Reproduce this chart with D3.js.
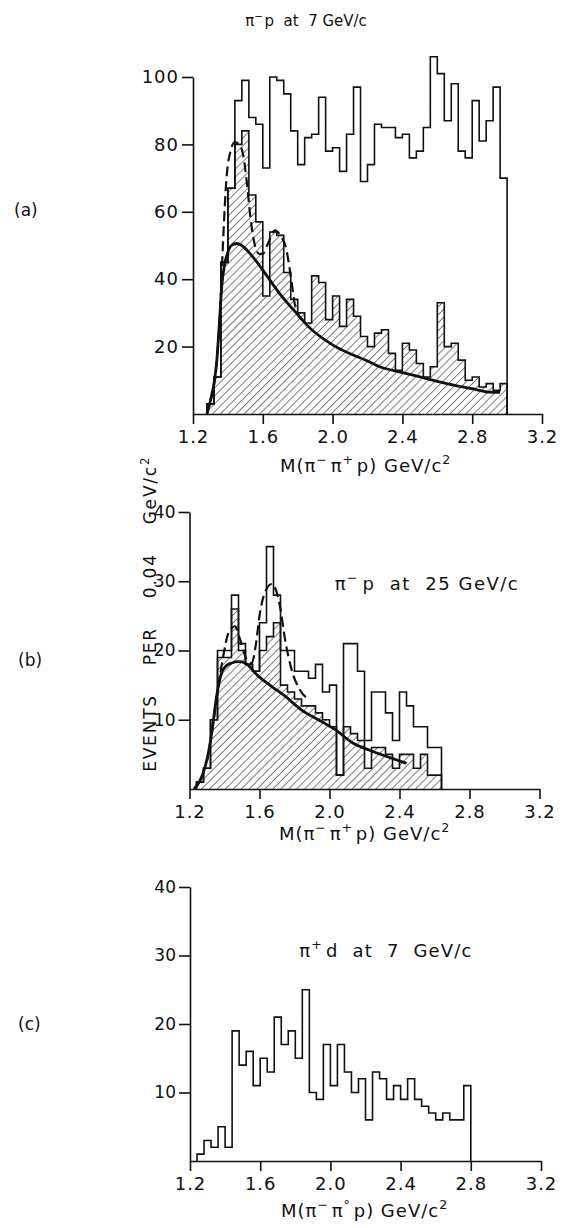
<!DOCTYPE html>
<html><head><meta charset="utf-8">
<script src="https://cdn.jsdelivr.net/npm/d3@7"></script>
<style>
body{margin:0;background:#fff}
text{font-family:"DejaVu Sans",sans-serif;fill:#111;white-space:pre}
</style>
</head><body><svg id="chart" width="566" height="1228"></svg>
<script>
// ---------- data ----------
const binWidth = 0.04;
const massTicks = [1.2, 1.6, 2.0, 2.4, 2.8, 3.2];
const massTickLabels = ["1.2", "1.6", "2.0", "2.4", "2.8", "3.2"];

// (a) pi- p at 7 GeV/c
const aFirstBin = 1.28;
const aTotal = [3,11,45,67,93,99,88,86,73,100,99,95,84,74,82,83,94,78,79,72,83,97,69,74,86,85,85,82,83,76,78,85,106,101,87,98,78,76,93,81,87,97,70];
const aHatched = [3,11,45,67,80,84,65,57,35,54,53,42,34,30,27,41,39,28,35,26,34,29,23,20,24,25,18,13,21,19,15,11,14,33,20,21,16,10,11,8,9,7,9];
const aFitSolid = [[1.28,0],[1.30,4],[1.32,9],[1.335,15],[1.35,26],[1.365,38],[1.38,44],[1.40,48],[1.42,50],[1.45,50.6],[1.48,50],[1.52,48],[1.56,45.5],[1.60,42.7],[1.70,35.5],[1.80,29.5],[1.86,26],[2.0,20.5],[2.2,15.7],[2.27,14],[2.4,12.3],[2.5,11],[2.6,9.7],[2.7,8.5],[2.8,7.5],[2.9,6.5],[2.96,6.4]];
const aFitDashed = [[1.30,4],[1.335,15],[1.355,30],[1.373,52],[1.392,70],[1.415,78],[1.44,80.7],[1.465,80],[1.487,77],[1.51,68],[1.53,58],[1.555,50],[1.58,47.5],[1.60,47.5],[1.63,50.6],[1.669,54.5],[1.70,53],[1.736,48.6],[1.76,41],[1.79,31],[1.83,27.8]];
const aYTicks = [20, 40, 60, 80, 100];

// (b) pi- p at 25 GeV/c
const bFirstBin = 1.24;
const bTotal = [1,3,10,20,20,28,21,18,17,24,35,28,20,20,17,17,16,18,14,15,2,21,21,17,7,14,14,11,7,14,12,9,9,6,6];
const bHatched = [1,3,10,19,19,26,20,18,17,20,22,24,15,14,13,12,12,11,10,9,2,9,8,7,3,6,6,5,3,5,5,3,5,2,2];
const bFitSolid = [[1.225,0],[1.26,1.2],[1.289,3.2],[1.31,5.5],[1.327,8.1],[1.355,13.4],[1.384,16.8],[1.41,17.8],[1.441,18.2],[1.48,18.4],[1.517,18.2],[1.593,16.3],[1.67,14.8],[1.746,13.4],[1.841,11.4],[1.936,10],[2.031,8.6],[2.136,6.6],[2.23,5.6],[2.327,4.7],[2.44,3.7]];
const bFitDashed = [[1.30,4],[1.33,8.5],[1.36,14],[1.393,19.2],[1.422,22.5],[1.46,23.5],[1.489,21.6],[1.527,18.7],[1.555,18.2],[1.58,21],[1.60,25],[1.631,28.4],[1.67,29.6],[1.717,26.4],[1.746,21.6],[1.784,17.2],[1.831,14.3],[1.889,12.9]];
const bcYTicks = [10, 20, 30, 40];

// (c) pi+ d at 7 GeV/c
const cFirstBin = 1.24;
const cTotal = [1,3,2,5,2,19,14,16,11,15,13,21,17,19,15,25,10,9,17,11,17,13,10,12,6,13,12,9,11,9,12,9,8,7,6,7,6,6,11];

// ---------- drawing ----------
const svg = d3.select("#chart");
const defs = svg.append("defs");
const pat = defs.append("pattern").attr("id","hatch").attr("patternUnits","userSpaceOnUse")
  .attr("width",5.6).attr("height",10).attr("patternTransform","rotate(45)");
pat.append("line").attr("x1",0).attr("y1",-1).attr("x2",0).attr("y2",11).attr("stroke","#111").attr("stroke-width",1.1);

function stepPath(first, vals, x, y) {
  const p = d3.path();
  p.moveTo(x(first), y(0));
  vals.forEach((v, i) => {
    const a = first + i * binWidth, b = a + binWidth;
    p.lineTo(x(a), y(v)); p.lineTo(x(b), y(v));
  });
  p.lineTo(x(first + vals.length * binWidth), y(0));
  return p.toString();
}

function richText(parent, x, y, parts, size, anchor, ls, extra) {
  const t = parent.append("text").attr("x", x).attr("y", y)
    .attr("font-size", size).attr("text-anchor", anchor || "start")
    .attr("letter-spacing", ls || 0);
  if (extra) extra(t);
  parts.forEach(p => {
    if (typeof p === "string") t.append("tspan").text(p);
    else {
      t.append("tspan").attr("dy", -size * 0.42).attr("font-size", size * 0.7).text(p.sup);
      t.append("tspan").attr("dy", size * 0.42).text("\u200A");
    }
  });
  return t;
}

function panel(cfg) {
  const x = d3.scaleLinear().domain([1.2, 3.2]).range(cfg.xr);
  const y = d3.scaleLinear().domain([0, cfg.ymax]).range(cfg.yr);
  const g = svg.append("g");
  if (cfg.hatched) {
    g.append("path").attr("d", stepPath(cfg.hFirst, cfg.hatched, x, y))
      .attr("fill", "url(#hatch)").attr("stroke", "#111").attr("stroke-width", 1.6);
  }
  g.append("path").attr("d", stepPath(cfg.tFirst, cfg.total, x, y))
    .attr("fill", "none").attr("stroke", "#111").attr("stroke-width", 1.6);
  const line = d3.line().x(d => x(d[0])).y(d => y(d[1])).curve(d3.curveMonotoneX);
  if (cfg.solid) g.append("path").datum(cfg.solid).attr("d", line)
    .attr("fill", "none").attr("stroke", "#111").attr("stroke-width", 2.8);
  if (cfg.dashed) g.append("path").datum(cfg.dashed).attr("d", line)
    .attr("fill", "none").attr("stroke", "#111").attr("stroke-width", 2.2).attr("stroke-dasharray", "10,5");

  const xa = d3.axisBottom(x).tickValues(massTicks).tickSize(10).tickSizeOuter(0).tickPadding(6)
    .tickFormat((d, i) => massTickLabels[i]);
  const gx = g.append("g").attr("transform", `translate(0,${cfg.yr[0]})`).call(xa);
  const ya = d3.axisLeft(y).tickValues(cfg.yTicks).tickSize(11).tickSizeOuter(0).tickPadding(3);
  const gy = g.append("g").attr("transform", `translate(${cfg.xr[0]},0)`).call(ya);
  [gx, gy].forEach(a => {
    a.selectAll("path,line").attr("stroke", "#111").attr("stroke-width", 1.6);
    a.selectAll("text").attr("font-family", "DejaVu Sans").attr("fill", "#111");
  });
  gx.selectAll("text").attr("font-size", 18).attr("letter-spacing", 1);
  gy.selectAll("text").attr("font-size", cfg.yFont).attr("letter-spacing", cfg.yLs);
  return g;
}

panel({xr:[193,542], yr:[414,77], ymax:100, yTicks:aYTicks, yFont:18, yLs:1, tFirst:aFirstBin, total:aTotal,
       hFirst:aFirstBin, hatched:aHatched, solid:aFitSolid, dashed:aFitDashed});
panel({xr:[189.5,539.5], yr:[789,512], ymax:40, yTicks:bcYTicks, yFont:17, yLs:0, tFirst:bFirstBin, total:bTotal,
       hFirst:bFirstBin, hatched:bHatched, solid:bFitSolid, dashed:bFitDashed});
panel({xr:[190,541], yr:[1161,887], ymax:40, yTicks:bcYTicks, yFont:17, yLs:0, tFirst:cFirstBin, total:cTotal});

// ---------- texts ----------
richText(svg, 306, 26, ["\u03C0", {sup:"\u2212"}, "p  at  7 GeV/c"], 15, "middle", 0);
svg.append("text").attr("x", 14).attr("y", 216).attr("font-size", 17).text("(a)");
svg.append("text").attr("x", 18).attr("y", 666).attr("font-size", 17).text("(b)");
svg.append("text").attr("x", 18).attr("y", 1030).attr("font-size", 17).text("(c)");

const xTitleAB = ["M(\u03C0", {sup:"\u2212"}, "\u03C0", {sup:"+"}, "p) GeV/c", {sup:"2"}];
const xTitleC = ["M(\u03C0", {sup:"\u2212"}, "\u03C0", {sup:"\u00B0"}, "p) GeV/c", {sup:"2"}];
richText(svg, 367, 472, xTitleAB, 18, "middle", 1);
richText(svg, 366, 840, xTitleAB, 18, "middle", 1);
richText(svg, 366, 1217, xTitleC, 18, "middle", 1);

richText(svg, 427, 590, ["\u03C0", {sup:"\u2212"}, "p  at  25 GeV/c"], 18, "middle", 1.5);
richText(svg, 386, 957, ["\u03C0", {sup:"+"}, "d  at  7  GeV/c"], 18, "middle", 1.2);

richText(svg, 0, 0, ["EVENTS    PER    0.04    GeV/c", {sup:"2"}], 17, "middle", 1.8,
  t => t.attr("transform", "translate(156,612) rotate(-90)"));
</script>
</body></html>
